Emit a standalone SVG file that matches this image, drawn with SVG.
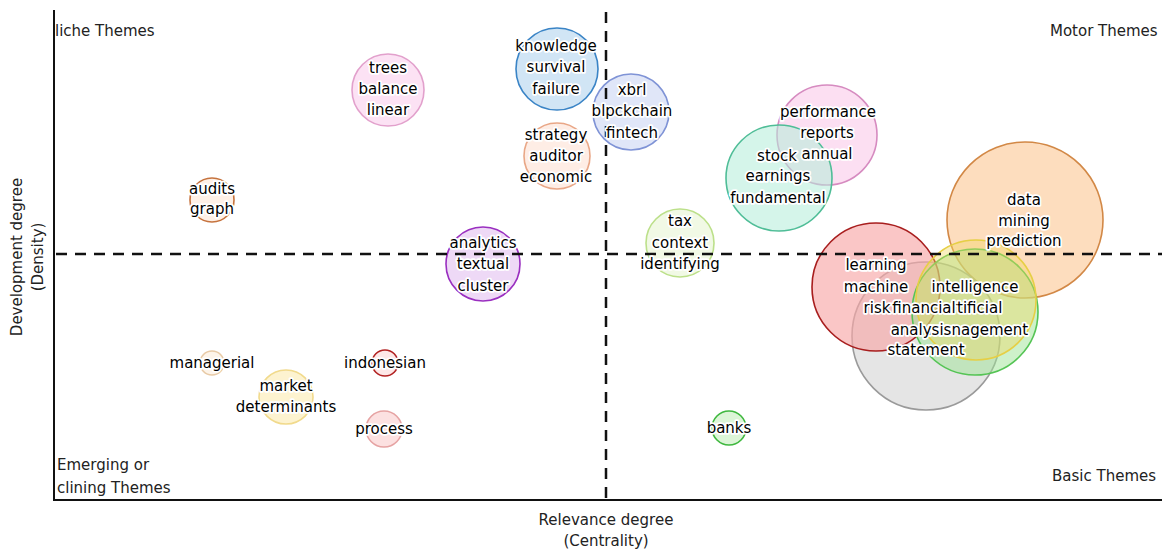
<svg xmlns="http://www.w3.org/2000/svg" width="1164" height="549" viewBox="0 0 1164 549">
<style>
.lbl{font-family:"DejaVu Sans",Verdana,sans-serif;font-size:15px;fill:#000;stroke:#fff;stroke-width:3.5px;stroke-linejoin:round;paint-order:stroke;text-anchor:middle}
.q{font-family:"DejaVu Sans",Verdana,sans-serif;font-size:15px;fill:#222}
.ax{font-family:"DejaVu Sans",Verdana,sans-serif;font-size:15px;fill:#222;text-anchor:middle}
.dash{stroke:#111;stroke-width:2.5;stroke-dasharray:11 8;fill:none}
.axis{stroke:#111;stroke-width:2;fill:none}
circle{stroke-width:1.6}
</style>
<rect width="1164" height="549" fill="#fff"/>
<g id="axes">
<line class="axis" x1="54" y1="10" x2="54" y2="501"/>
<line class="axis" x1="53" y1="500" x2="1162" y2="500"/>
<text class="q" x="55" y="36">liche Themes</text>
<text class="q" x="1050" y="36">Motor Themes</text>
<text class="q" x="57" y="470">Emerging or</text>
<text class="q" x="57" y="493">clining Themes</text>
<text class="q" x="1052" y="481">Basic Themes</text>
<text class="ax" x="606" y="525">Relevance degree</text>
<text class="ax" x="606" y="546">(Centrality)</text>
<text class="ax" transform="translate(22,257) rotate(-90)">Development degree</text>
<text class="ax" transform="translate(43,257) rotate(-90)">(Density)</text>
</g>
<g id="connectors"></g>
<g id="nodes">
<g id="node-trees"><circle cx="388" cy="90" r="36" fill="#fbd6ef" fill-opacity="0.7" stroke="#e2a0cc"/></g>
<g id="node-audits"><circle cx="212" cy="200" r="22" fill="#fde6d6" fill-opacity="0.6" stroke="#c6733e"/></g>
<g id="node-knowledge"><circle cx="557" cy="69" r="41" fill="#c6def3" fill-opacity="0.8" stroke="#3a84c6"/></g>
<g id="node-xbrl"><circle cx="631" cy="112" r="38" fill="#d6def6" fill-opacity="0.75" stroke="#7f93d6"/></g>
<g id="node-strategy"><circle cx="557" cy="156" r="33" fill="#fde6da" fill-opacity="0.7" stroke="#e9a787"/></g>
<g id="node-analytics"><circle cx="483" cy="264" r="37" fill="#ead0f4" fill-opacity="0.8" stroke="#9a2fc0"/></g>
<g id="node-tax"><circle cx="680" cy="243" r="34" fill="#eef8de" fill-opacity="0.8" stroke="#bce08a"/></g>
<g id="node-performance"><circle cx="827" cy="135" r="50" fill="#fbd2ec" fill-opacity="0.7" stroke="#d68bc0"/></g>
<g id="node-stock"><circle cx="779" cy="178" r="53" fill="#b3ecd9" fill-opacity="0.55" stroke="#4fbd97"/></g>
<g id="node-data"><circle cx="1025" cy="220" r="78" fill="#fdd5ae" fill-opacity="0.8" stroke="#d28846"/></g>
<g id="node-financial"><circle cx="926" cy="336" r="74" fill="#dedede" fill-opacity="0.8" stroke="#9a9a9a"/></g>
<g id="node-learning"><circle cx="876" cy="287" r="64" fill="#f7a8a8" fill-opacity="0.65" stroke="#a81e1e"/></g>
<g id="node-intelligence"><circle cx="975" cy="312" r="63" fill="#9ee496" fill-opacity="0.5" stroke="#55c455"/></g>
<g id="node-yellow"><circle cx="976" cy="300" r="60" fill="#f0d860" fill-opacity="0.4" stroke="#e6cf45"/></g>
<g id="node-managerial"><circle cx="212" cy="363" r="12" fill="#fdf1e4" fill-opacity="0.8" stroke="#e8caa6"/></g>
<g id="node-market"><circle cx="286" cy="397" r="27" fill="#fdf1c8" fill-opacity="0.85" stroke="#f1da8c"/></g>
<g id="node-indonesian"><circle cx="385" cy="363" r="13" fill="#fde2e2" fill-opacity="0.8" stroke="#b22222"/></g>
<g id="node-process"><circle cx="384" cy="429" r="18" fill="#fbdcdc" fill-opacity="0.85" stroke="#e6a3a3"/></g>
<g id="node-banks"><circle cx="729" cy="428" r="17" fill="#d6f3d0" fill-opacity="0.85" stroke="#3fb83f"/></g>
</g>
<g id="quadrant-lines">
<line class="dash" x1="56" y1="254" x2="1162" y2="254"/>
<line class="dash" x1="606" y1="12" x2="606" y2="500"/>
</g>
<g id="labels">
<g id="label-trees"><text class="lbl" x="388" y="73">trees</text><text class="lbl" x="388" y="94">balance</text><text class="lbl" x="388" y="115">linear</text></g>
<g id="label-audits"><text class="lbl" x="212" y="194">audits</text><text class="lbl" x="212" y="214">graph</text></g>
<g id="label-knowledge"><text class="lbl" x="556" y="51">knowledge</text><text class="lbl" x="556" y="72">survival</text><text class="lbl" x="556" y="94">failure</text></g>
<g id="label-xbrl"><text class="lbl" x="632" y="95">xbrl</text><text class="lbl" x="632" y="116">blpckchain</text><text class="lbl" x="632" y="138">fintech</text></g>
<g id="label-strategy"><text class="lbl" x="556" y="140">strategy</text><text class="lbl" x="556" y="161">auditor</text><text class="lbl" x="556" y="182">economic</text></g>
<g id="label-analytics"><text class="lbl" x="483" y="248">analytics</text><text class="lbl" x="483" y="269">textual</text><text class="lbl" x="483" y="291">cluster</text></g>
<g id="label-tax"><text class="lbl" x="680" y="226">tax</text><text class="lbl" x="680" y="248">context</text><text class="lbl" x="680" y="269">identifying</text></g>
<g id="label-performance"><text class="lbl" x="828" y="117">performance</text><text class="lbl" x="827" y="138">reports</text><text class="lbl" x="827" y="159">annual</text></g>
<g id="label-stock"><text class="lbl" x="777" y="161">stock</text><text class="lbl" x="778" y="181">earnings</text><text class="lbl" x="778" y="203">fundamental</text></g>
<g id="label-data"><text class="lbl" x="1024" y="205">data</text><text class="lbl" x="1024" y="226">mining</text><text class="lbl" x="1024" y="246">prediction</text></g>
<g id="label-learning"><text class="lbl" x="876" y="270">learning</text><text class="lbl" x="876" y="292">machine</text><text class="lbl" x="877" y="313">risk</text></g>
<g id="label-intelligence"><text class="lbl" x="975" y="292">intelligence</text><text class="lbl" x="972" y="313">artificial</text><text class="lbl" x="978" y="335">management</text></g>
<g id="label-financial"><text class="lbl" x="924" y="313">financial</text><text class="lbl" x="921" y="335">analysis</text><text class="lbl" x="926" y="355">statement</text></g>
<g id="label-managerial"><text class="lbl" x="212" y="368">managerial</text></g>
<g id="label-market"><text class="lbl" x="286" y="391">market</text><text class="lbl" x="286" y="412">determinants</text></g>
<g id="label-indonesian"><text class="lbl" x="385" y="368">indonesian</text></g>
<g id="label-process"><text class="lbl" x="384" y="434">process</text></g>
<g id="label-banks"><text class="lbl" x="729" y="433">banks</text></g>
</g>
</svg>
